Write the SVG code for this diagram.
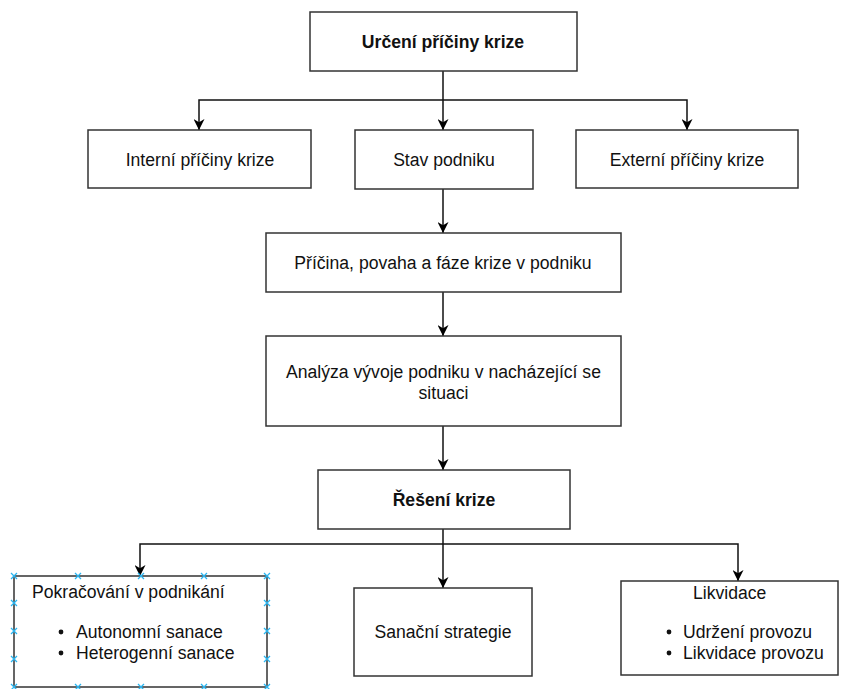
<svg xmlns="http://www.w3.org/2000/svg" width="846" height="689" viewBox="0 0 846 689">
<style>
.box{fill:#fff;stroke:#333;stroke-width:1.5}
.t{font-family:"Liberation Sans",Arial,sans-serif;font-size:17.6px;fill:#111}
.b{font-weight:bold}
.c{text-anchor:middle}
.con{fill:none;stroke:#111;stroke-width:1.5}
.h{stroke:#29b6f2;stroke-width:1.3;fill:none}
</style>
<defs>
<marker id="arr" viewBox="0 0 10 10" refX="10" refY="5" markerWidth="11" markerHeight="11" markerUnits="userSpaceOnUse" orient="auto">
<path d="M0,0 L10,5 L0,10 L3,5 Z" fill="#000"/>
</marker>
</defs>
<rect width="846" height="689" fill="#fff"/>
<g id="connectors">
<path class="con" d="M443,71 L443,130" marker-end="url(#arr)"/>
<path class="con" d="M443,100 L199,100 L199,130" marker-end="url(#arr)"/>
<path class="con" d="M443,100 L687,100 L687,130" marker-end="url(#arr)"/>
<path class="con" d="M443,189 L443,233" marker-end="url(#arr)"/>
<path class="con" d="M443,292 L443,336" marker-end="url(#arr)"/>
<path class="con" d="M443,426 L443,470" marker-end="url(#arr)"/>
<path class="con" d="M443,529 L443,588" marker-end="url(#arr)"/>
<path class="con" d="M443,544 L140,544 L140,576" marker-end="url(#arr)"/>
<path class="con" d="M443,544 L738,544 L738,581" marker-end="url(#arr)"/>
</g>
<g id="urceni">
<rect class="box" x="310" y="12" width="267" height="59"/>
<text class="t b c" x="443" y="47.5">Určení příčiny krize</text>
</g>
<g id="interni">
<rect class="box" x="88" y="130" width="223" height="58"/>
<text class="t c" x="200" y="165.5">Interní příčiny krize</text>
</g>
<g id="stav">
<rect class="box" x="355" y="130" width="178" height="59"/>
<text class="t c" x="444" y="165.5">Stav podniku</text>
</g>
<g id="externi">
<rect class="box" x="576" y="130" width="222" height="58"/>
<text class="t c" x="687" y="165.5">Externí příčiny krize</text>
</g>
<g id="pricina">
<rect class="box" x="266" y="233" width="355" height="59"/>
<text class="t c" x="443" y="268.5">Příčina, povaha a fáze krize v podniku</text>
</g>
<g id="analyza">
<rect class="box" x="266" y="336" width="355" height="90"/>
<text class="t c" x="443.5" y="378">Analýza vývoje podniku v nacházející se</text>
<text class="t c" x="443.5" y="399">situaci</text>
</g>
<g id="reseni">
<rect class="box" x="318" y="470" width="252" height="59"/>
<text class="t b c" x="444" y="505.5">Řešení krize</text>
</g>
<g id="pokracovani">
<rect class="box" x="14" y="576" width="253" height="111"/>
<text class="t" x="32" y="598">Pokračování v podnikání</text>
<circle cx="61" cy="632" r="2.4" fill="#111"/>
<text class="t" x="76" y="638">Autonomní sanace</text>
<circle cx="61" cy="653" r="2.4" fill="#111"/>
<text class="t" x="76" y="659">Heterogenní sanace</text>
<g class="h">
<path d="M11,573 l6,6 m0,-6 l-6,6"/>
<path d="M75,573 l6,6 m0,-6 l-6,6"/>
<path d="M138,573 l6,6 m0,-6 l-6,6"/>
<path d="M201,573 l6,6 m0,-6 l-6,6"/>
<path d="M264,573 l6,6 m0,-6 l-6,6"/>
<path d="M11,600 l6,6 m0,-6 l-6,6"/>
<path d="M264,600 l6,6 m0,-6 l-6,6"/>
<path d="M11,628 l6,6 m0,-6 l-6,6"/>
<path d="M264,628 l6,6 m0,-6 l-6,6"/>
<path d="M11,656 l6,6 m0,-6 l-6,6"/>
<path d="M264,656 l6,6 m0,-6 l-6,6"/>
<path d="M11,684 l6,6 m0,-6 l-6,6"/>
<path d="M75,684 l6,6 m0,-6 l-6,6"/>
<path d="M138,684 l6,6 m0,-6 l-6,6"/>
<path d="M201,684 l6,6 m0,-6 l-6,6"/>
<path d="M264,684 l6,6 m0,-6 l-6,6"/>
</g>
</g>
<g id="sanacni">
<rect class="box" x="354" y="588" width="178" height="88"/>
<text class="t c" x="443" y="638">Sanační strategie</text>
</g>
<g id="likvidace">
<rect class="box" x="621" y="581" width="217" height="94"/>
<text class="t" x="693" y="599">Likvidace</text>
<circle cx="669" cy="632" r="2.4" fill="#111"/>
<text class="t" x="683" y="638">Udržení provozu</text>
<circle cx="669" cy="653" r="2.4" fill="#111"/>
<text class="t" x="683" y="659">Likvidace provozu</text>
</g>
</svg>
